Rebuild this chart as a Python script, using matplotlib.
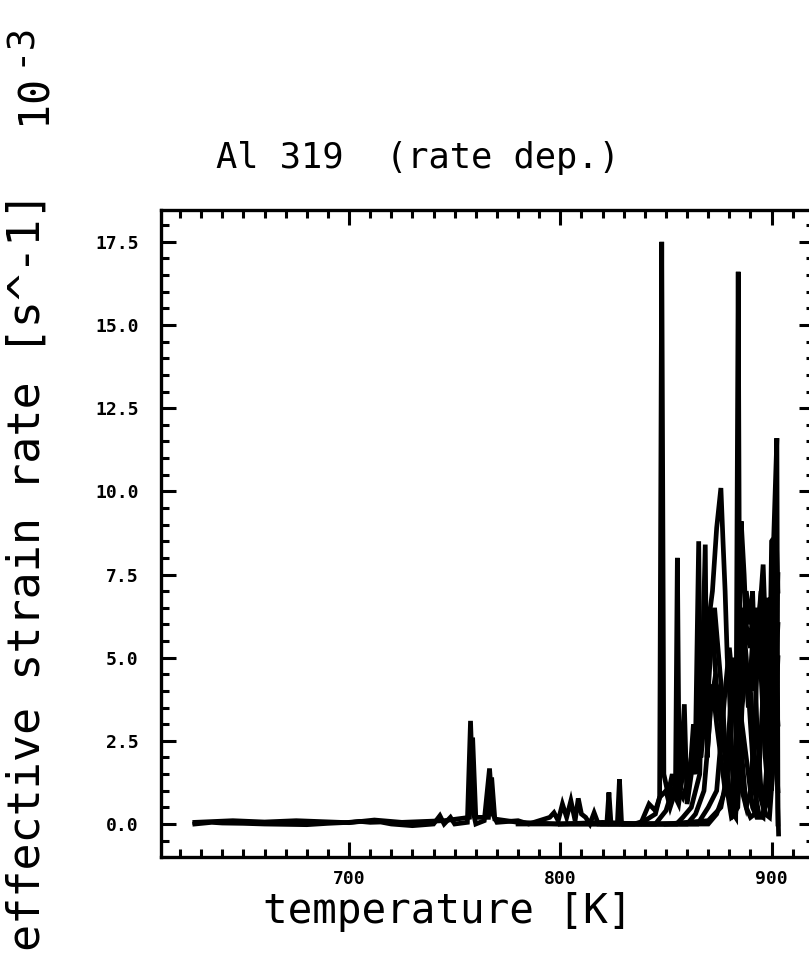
import matplotlib
matplotlib.use("Agg")
import matplotlib.pyplot as plt
from matplotlib.ticker import MultipleLocator, FormatStrFormatter

# temperature [K] / effective strain rate [1e-3 s^-1] for each run
t1 = [627, 635, 640, 650, 660, 680, 690, 700, 705, 710, 715, 720, 730, 740, 743, 745, 748, 750,
      756, 757.5, 759, 760, 764, 766.5, 768, 770, 780, 785, 790, 795, 797, 799, 801, 803, 805,
      807, 808.5, 810, 812, 814, 816, 818, 822, 823, 824, 827, 828, 829, 835, 840, 845, 847,
      848, 849, 851, 853, 855, 857, 858.7, 860, 862, 864, 865.5, 866.5, 868, 870, 871, 872, 874,
      876, 877, 878, 879, 880, 881, 882, 883, 884, 885.6, 887, 888, 889, 890, 891, 892, 893,
      895, 896, 897, 898, 899, 900, 901, 902.5, 903, 903.3]
v1 = [0.0, 0.05, 0.03, 0.02, 0.0, -0.02, 0.02, 0.05, 0.08, 0.05, 0.06, 0.0, -0.05, 0.0, 0.25, 0.0, 0.2, 0.0,
      0.05, 3.1, 0.3, 0.0, 0.1, 1.67, 0.3, 0.05, 0.1, 0.0, 0.1, 0.2, 0.34, 0.1, 0.6, 0.2, 0.7,
      0.1, 0.77, 0.3, 0.2, 0.0, 0.34, 0.0, 0.0, 0.95, 0.0, 0.0, 1.34, 0.0, 0.0, 0.1, 0.3, 0.8,
      17.5, 1.5, 0.9, 1.5, 0.8, 1.6, 3.6, 0.6, 1.5, 2.5, 8.5, 2.0, 3.0, 4.5, 6.5, 7.0, 8.9,
      10.1, 8.5, 7.0, 5.0, 4.0, 2.5, 0.5, 0.3, 2.0, 9.1, 7.5, 6.0, 5.5, 5.3, 6.5, 4.0, 5.5,
      7.0, 3.0, 5.0, 6.8, 4.0, 8.5, 8.6, 11.6, 0.5, -0.3]

t2 = [627, 645, 660, 675, 700, 712, 725, 745, 757, 758.5, 760, 766, 767.5, 769, 780, 800, 820,
      838, 840, 842, 845, 847, 850, 852, 854.5, 855.4, 856.3, 858, 860, 862, 864, 866, 868, 870,
      872, 874, 876, 878, 880, 882, 884, 886, 888, 890, 892, 894, 896, 898, 900, 902, 903]
v2 = [0.05, 0.1, 0.06, 0.1, 0.04, 0.12, 0.05, 0.1, 0.2, 2.6, 0.2, 0.2, 1.4, 0.15, 0.05, 0.0, 0.05,
      0.0, 0.3, 0.6, 0.4, 0.8, 1.0, 0.5, 1.0, 8.0, 1.0, 0.8, 1.2, 2.0, 1.5, 3.0, 4.3, 5.5,
      6.0, 4.0, 3.0, 2.0, 1.0, 0.3, 0.5, 3.5, 4.8, 4.0, 2.0, 1.0, 0.5, 1.0, 4.0, 7.0, 0.0]

t3 = [780, 820, 855, 858, 862, 866, 868.6, 869.5, 871, 873, 875, 877, 879, 881, 883, 884.2, 885,
      886, 888, 890, 891, 893, 895, 897, 899, 901, 903]
v3 = [0.0, 0.0, 0.0, 0.2, 0.5, 1.5, 8.4, 2.0, 3.5, 4.3, 4.0, 3.0, 1.5, 0.4, 0.2, 16.6, 3.0,
      5.0, 7.0, 6.0, 7.0, 3.0, 1.0, 0.3, 0.2, 2.0, 5.0]

t4 = [800, 840, 860, 864, 868, 870, 872, 874, 876, 878, 880, 882, 884, 886, 888, 890, 892, 894,
      896, 898, 900, 901, 903]
v4 = [0.0, 0.0, 0.0, 0.3, 1.0, 2.5, 4.2, 3.0, 2.0, 1.0, 2.0, 4.0, 5.0, 6.5, 5.0, 3.0, 1.0, 0.3,
      0.2, 2.0, 6.8, 5.0, 3.0]

t5 = [820, 850, 865, 870, 874, 876, 878, 880, 882, 884, 886, 888, 890, 892, 894, 896, 897, 898,
      900, 902, 903]
v5 = [0.0, 0.0, 0.0, 0.5, 1.0, 2.5, 4.0, 5.3, 4.0, 2.0, 1.0, 0.5, 1.0, 3.0, 6.0, 7.8, 6.0, 3.0,
      1.0, 4.5, 7.5]

t6 = [830, 860, 870, 874, 878, 880, 882, 884, 886, 888, 890, 892, 894, 896, 898, 900, 902, 903]
v6 = [0.0, 0.0, 0.0, 0.3, 1.0, 3.0, 5.0, 4.0, 2.0, 0.5, 0.2, 0.3, 1.5, 4.0, 5.5, 4.0, 2.0, 1.0]

t7 = [840, 845, 850, 853, 856, 859, 861, 863, 865, 867, 869, 871, 873, 875, 877, 879, 881, 883,
      885, 887, 889, 891, 893, 895, 897, 899, 901, 903]
v7 = [0.0, 0.0, 0.4, 1.0, 0.6, 2.0, 1.2, 3.0, 2.0, 4.5, 3.0, 5.0, 6.5, 5.0, 3.5, 1.0, 0.2, 0.3,
      4.0, 5.5, 3.5, 5.5, 6.5, 4.5, 2.0, 0.5, 3.5, 6.0]

t8 = [850, 870, 876, 879, 881, 883, 885, 887, 889, 891, 893, 895, 897, 899, 901, 902, 903]
v8 = [0.0, 0.1, 0.5, 1.5, 3.5, 4.5, 3.5, 2.5, 1.5, 0.5, 0.2, 0.2, 0.5, 2.5, 6.0, 9.0, 7.0]

runs = [(t1, v1), (t2, v2), (t3, v3), (t4, v4), (t5, v5), (t6, v6), (t7, v7), (t8, v8)]

mono = "DejaVu Sans Mono"

fig = plt.figure(figsize=(8.09, 9.6), dpi=100)
ax = fig.add_axes([0.199, 0.107, 0.807, 0.674])

for t, v in runs:
    ax.plot(t, v, color="black", lw=3.4, solid_joinstyle="miter")

ax.set_xlim(611, 920)
ax.set_ylim(-1.0, 18.45)

ax.xaxis.set_major_locator(MultipleLocator(100))
ax.xaxis.set_minor_locator(MultipleLocator(10))
ax.yaxis.set_major_locator(MultipleLocator(2.5))
ax.yaxis.set_minor_locator(MultipleLocator(0.5))
ax.xaxis.set_major_formatter(FormatStrFormatter("%d"))
ax.yaxis.set_major_formatter(FormatStrFormatter("%.1f"))

ax.tick_params(which="both", direction="in", top=True, right=True, width=2.2, color="black")
ax.tick_params(which="major", length=11)
ax.tick_params(which="minor", length=6)
ax.tick_params(axis="y", which="major", pad=16)
ax.tick_params(axis="x", which="major", pad=9)
for lab in ax.get_xticklabels() + ax.get_yticklabels():
    lab.set_family(mono)
    lab.set_fontweight("bold")
    lab.set_fontsize(13)

for s in ax.spines.values():
    s.set_linewidth(2.4)

fig.text(0.516, 0.835, "Al 319  (rate dep.)", family=mono, fontsize=25.5,
         ha="center", va="center")
fig.text(0.554, 0.05, "temperature [K]", family=mono, fontsize=29.5,
         ha="center", va="center")
fig.text(0.034, 0.405, "effective strain rate [s^-1]", family=mono, fontsize=32.5,
         rotation=90, ha="center", va="center")
fig.text(0.042, 0.897, "10", family=mono, fontsize=30, rotation=90, ha="center", va="center")
fig.text(0.024, 0.955, "-3", family=mono, fontsize=27, rotation=90, ha="center", va="center")

fig.savefig("out.png", dpi=100)
